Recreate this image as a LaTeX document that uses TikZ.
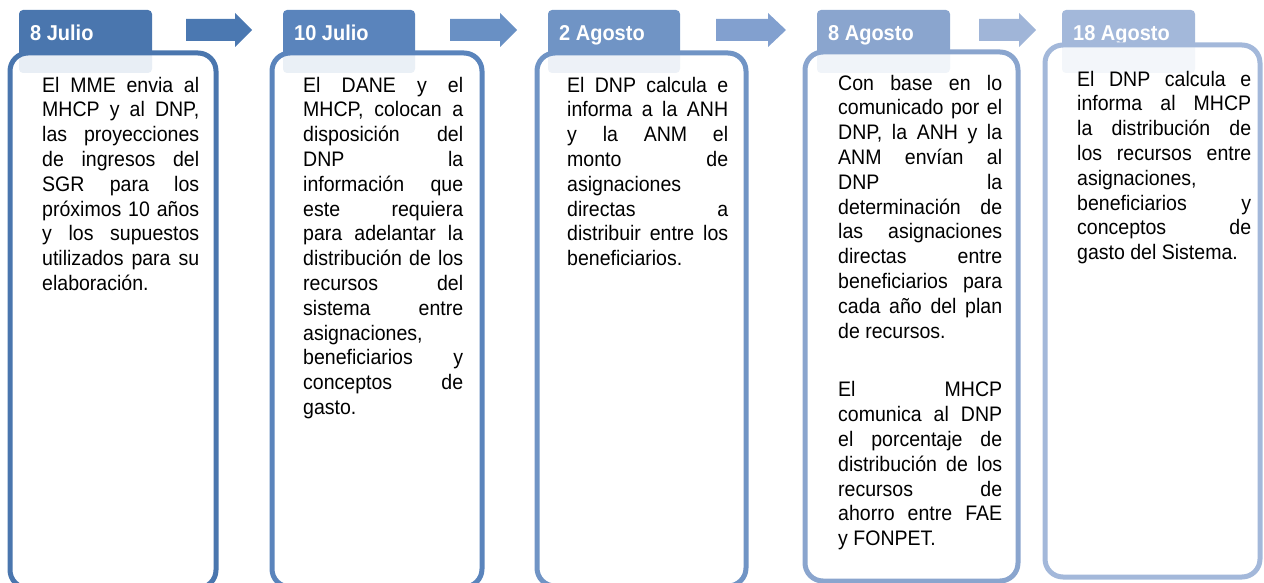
\documentclass[tikz,border=0pt]{standalone}
\usepackage{fontspec}
\setmainfont[FakeStretch=0.93]{Liberation Sans}
\usetikzlibrary{calc}
\usetikzlibrary{positioning}

\definecolor{stepA}{HTML}{4A76AE}
\definecolor{stepB}{HTML}{5A84BC}
\definecolor{stepC}{HTML}{7094C5}
\definecolor{stepD}{HTML}{8AA5CE}
\definecolor{stepE}{HTML}{A3B8DA}
\definecolor{arrA}{HTML}{4B78B1}
\definecolor{arrB}{HTML}{6990C4}
\definecolor{arrC}{HTML}{82A0CF}
\definecolor{arrD}{HTML}{A0B5D8}

\tikzset{
  datetab/.style={rounded corners=4pt},
  card/.style={line width=5pt, rounded corners=18pt, fill=white, fill opacity=0.88},
  datelabel/.style={anchor=base west, inner sep=0pt, text=white,
    font=\fontsize{21.5}{24}\selectfont\bfseries},
  bodytext/.style={anchor=north west, inner sep=0pt, align=justify,
    font=\fontsize{21}{24.8}\selectfont,
    execute at begin node={\hyphenpenalty=10000\exhyphenpenalty=10000}},
}

\begin{document}
\begin{tikzpicture}[x=1pt,y=-1pt]
\useasboundingbox (0,0) rectangle (1264,583);
\clip (0,0) rectangle (1264,583);
% date tabs
\fill[datetab,stepA] (19,10) rectangle (152,73);
\fill[datetab,stepB] (283,10) rectangle (415,73);
\fill[datetab,stepC] (548,10) rectangle (680,73);
\fill[datetab,stepD] (817,10) rectangle (950,73);
\fill[datetab,stepE] (1062,10) rectangle (1195,73);
\node[datelabel] (h1) at (30,41) {8 Julio};
\node[datelabel] (h2) at (294,41) {10 Julio};
\node[datelabel] (h3) at (559,41) {2 Agosto};
\node[datelabel] (h4) at (828,41) {8 Agosto};
\node[datelabel] (h5) at (1073,41) {18 Agosto};
% block arrows between the tabs
\fill[arrA] (186,19) -- (235,19) -- (235,13) -- (252,30) -- (235,47) -- (235,41) -- (186,41) -- cycle;
\fill[arrB] (450,19) -- (500,19) -- (500,13) -- (517,30) -- (500,47) -- (500,41) -- (450,41) -- cycle;
\fill[arrC] (716,19) -- (768,19) -- (768,13) -- (786,30) -- (768,47) -- (768,41) -- (716,41) -- cycle;
\fill[arrD] (979,19) -- (1019,19) -- (1019,13) -- (1036,30) -- (1019,47) -- (1019,41) -- (979,41) -- cycle;
% cards
\draw[card,draw=stepA] (10,53) rectangle (216,588);
\draw[card,draw=stepB] (272,53) rectangle (482,587);
\draw[card,draw=stepC] (537,53) rectangle (746,586);
\draw[card,draw=stepD] (805,52) rectangle (1018,581);
\draw[card,draw=stepE] (1045,45) rectangle (1260,577);
%% texts of the cards
\node[bodytext,text width=157pt] (t1) at (42,76.7) {El MME envia al\linebreak
MHCP y al DNP,\linebreak las proyecciones\linebreak de ingresos del\linebreak
SGR para los\linebreak próximos 10 años\linebreak y los supuestos\linebreak
utilizados para su\linebreak elaboración.};
\node[bodytext,text width=160pt] (t2) at (303,76.7) {El DANE y el\linebreak
MHCP, colocan a\linebreak disposición del\linebreak DNP la\linebreak
información que\linebreak este requiera\linebreak para adelantar la\linebreak
distribución de los\linebreak recursos del\linebreak sistema entre\linebreak
asignaciones,\newline beneficiarios y\linebreak conceptos de\linebreak gasto.};
\node[bodytext,text width=161pt] (t3) at (567,76.7) {El DNP calcula e\linebreak
informa a la ANH\linebreak y la ANM el\linebreak monto de\linebreak
asignaciones\newline directas a\linebreak distribuir entre los\linebreak beneficiarios.};
\node[bodytext,text width=164pt] (t4) at (838,74.7) {Con base en lo\linebreak
comunicado por el\linebreak DNP, la ANH y la\linebreak ANM envían al\linebreak
DNP la\linebreak determinación de\linebreak las asignaciones\linebreak
directas entre\linebreak beneficiarios para\linebreak cada año del plan\linebreak
de recursos.\par\vspace{34pt}
El MHCP\linebreak comunica al DNP\linebreak el porcentaje de\linebreak
distribución de los\linebreak recursos de\linebreak ahorro entre FAE\linebreak y FONPET.};
\node[bodytext,text width=174pt] (t5) at (1077,70.7) {El DNP calcula e\linebreak
informa al MHCP\linebreak la distribución de\linebreak los recursos entre\linebreak
asignaciones,\newline beneficiarios y\linebreak conceptos de\linebreak gasto del Sistema.};
\end{tikzpicture}
\end{document}
